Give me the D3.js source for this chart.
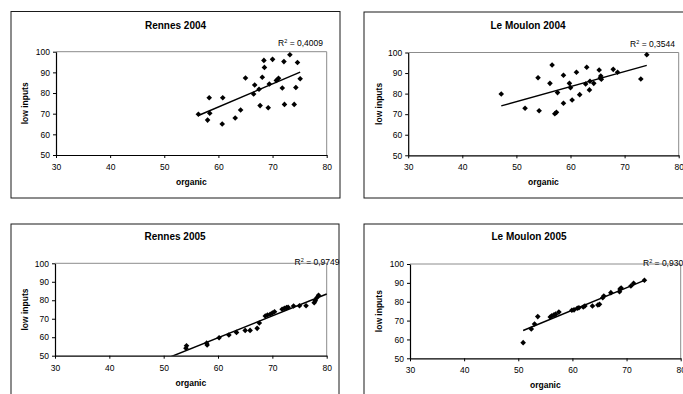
<!DOCTYPE html>
<html>
<head>
<meta charset="utf-8">
<script src="https://cdn.jsdelivr.net/npm/d3@7"></script>
<style>
  html, body { margin: 0; padding: 0; background: #fff; }
  svg { display: block; }
  text { font-family: "Liberation Sans", Arial, sans-serif; fill: #000; }
</style>
</head>
<body>
<svg id="chart" width="683" height="394"></svg>
<script>
// ---- data ----
const panelTitles = ["Rennes 2004", "Le Moulon 2004", "Rennes 2005", "Le Moulon 2005"];
const r2Labels = ["0,4009", "0,3544", "0,9749", "0,9306"];
const xTicks = [30, 40, 50, 60, 70, 80];
const yTicks = [50, 60, 70, 80, 90, 100];
const xTitle = "organic";
const yTitle = "low inputs";

const rennes2004X = [56.3, 58.0, 58.3, 58.4, 60.7, 60.8, 63.1, 64.1, 65.0, 66.5, 66.7, 67.5, 67.7, 68.1, 68.4, 68.5, 69.2, 69.4, 70.0, 70.7, 71.1, 71.8, 72.1, 72.2, 73.2, 74.0, 74.3, 74.6, 75.1];
const rennes2004Y = [69.7, 66.9, 77.7, 70.2, 65.0, 77.7, 67.9, 71.8, 87.3, 79.5, 83.9, 81.8, 73.9, 87.6, 95.8, 92.4, 72.9, 84.4, 96.3, 86.1, 87.1, 82.4, 95.2, 74.5, 98.5, 74.5, 82.7, 94.8, 86.9];

const moulon2004X = [47.2, 51.6, 54.0, 54.2, 56.2, 56.6, 57.1, 57.4, 57.6, 58.7, 58.7, 59.8, 60.0, 60.3, 61.1, 61.7, 62.8, 63.0, 63.5, 63.6, 64.3, 65.3, 65.5, 65.6, 65.7, 67.9, 68.7, 73.0, 74.1];
const moulon2004Y = [79.8, 72.9, 87.7, 71.7, 85.0, 93.9, 70.2, 70.9, 80.5, 88.9, 75.3, 85.0, 82.9, 76.9, 90.4, 79.5, 84.7, 92.8, 81.8, 86.0, 85.0, 91.5, 87.6, 88.6, 87.0, 91.8, 90.4, 87.1, 98.9];

const rennes2005X = [54.1, 54.2, 57.9, 58.0, 60.2, 62.0, 63.4, 65.0, 65.9, 67.2, 67.6, 68.7, 69.1, 69.6, 70.0, 70.4, 71.8, 72.2, 72.6, 72.9, 73.9, 75.0, 76.2, 77.7, 77.9, 78.2, 78.5];
const rennes2005Y = [54.0, 55.4, 56.8, 55.8, 59.7, 61.2, 62.6, 63.7, 63.7, 64.8, 67.7, 71.5, 72.0, 72.4, 73.1, 73.8, 75.1, 75.6, 76.0, 76.2, 76.9, 77.0, 77.0, 78.7, 79.8, 81.4, 82.7];

const moulon2005X = [50.9, 52.4, 53.0, 53.6, 55.9, 56.2, 56.6, 56.9, 57.5, 59.9, 60.3, 60.9, 61.2, 62.0, 62.3, 63.7, 64.7, 65.0, 65.6, 65.8, 67.1, 68.7, 68.8, 69.0, 70.8, 71.3, 73.3];
const moulon2005Y = [58.3, 65.5, 68.2, 72.1, 71.9, 72.6, 73.0, 73.4, 74.5, 75.5, 75.7, 76.5, 76.8, 77.2, 77.7, 77.7, 78.3, 78.6, 82.1, 83.0, 84.8, 85.3, 86.7, 87.3, 88.3, 89.8, 91.4];

const seriesX = [rennes2004X, moulon2004X, rennes2005X, moulon2005X];
const seriesY = [rennes2004Y, moulon2004Y, rennes2005Y, moulon2005Y];
// trend line drawn over the data range, or over the full axis (forecast) for Rennes 2005
const trendSpan = ["data", "data", "axis", "data"];

// ---- layout (positions only) ----
const layouts = [
  { frame: [11, 11.5, 329, 186.5], plot: [56, 326.7, 51.7, 155], titleY: 25, r2: { x: 323, y: 43.3, anchor: "end" }, yTitleX: 25 },
  { frame: [364, 12, 328, 186], plot: [408.2, 678.7, 52.5, 155.3], titleY: 25, r2: { x: 675, y: 43.7, anchor: "end" }, yTitleX: 379 },
  { frame: [11, 224, 328, 200], plot: [55, 326.7, 263.3, 355.7], titleY: 236.7, r2: { x: 339.5, y: 261.7, anchor: "end" }, yTitleX: 25 },
  { frame: [364, 224, 330, 200], plot: [410, 680.7, 264, 358.3], titleY: 236.7, r2: { x: 643, y: 263, anchor: "start" }, yTitleX: 379 }
];

const svg = d3.select("#chart");
const FS = 8.5;

function regression(xs, ys) {
  const mx = d3.mean(xs), my = d3.mean(ys);
  let sxy = 0, sxx = 0;
  for (let i = 0; i < xs.length; i++) { sxy += (xs[i] - mx) * (ys[i] - my); sxx += (xs[i] - mx) ** 2; }
  const b = sxy / sxx;
  return { b, a: my - b * mx };
}

layouts.forEach((L, i) => {
  const g = svg.append("g");
  const [fx, fy, fw, fh] = L.frame;
  const [pl, pr, pt, pb] = L.plot;

  g.append("rect").attr("x", fx).attr("y", fy).attr("width", fw).attr("height", fh)
    .attr("fill", "#fff").attr("stroke", "#1a1a1a").attr("stroke-width", 1);

  const x = d3.scaleLinear().domain([30, 80]).range([pl, pr]);
  const y = d3.scaleLinear().domain([50, 100]).range([pb, pt]);

  // plot area border (grey top & right)
  g.append("path")
    .attr("d", `M${pl},${pt}H${pr}V${pb}`)
    .attr("fill", "none").attr("stroke", "#8c8c8c").attr("stroke-width", 1);

  // title
  g.append("text").attr("x", fx + fw / 2).attr("y", L.titleY).attr("dy", "0.35em")
    .attr("text-anchor", "middle").attr("font-size", 10).attr("font-weight", "bold")
    .text(panelTitles[i]);

  // axes
  const xAxis = d3.axisBottom(x).tickValues(xTicks).tickSize(3).tickPadding(6).tickSizeOuter(0);
  const yAxis = d3.axisLeft(y).tickValues(yTicks).tickSize(3).tickPadding(3).tickSizeOuter(0);
  const gx = g.append("g").attr("transform", `translate(0,${pb})`).call(xAxis);
  const gy = g.append("g").attr("transform", `translate(${pl},0)`).call(yAxis);
  [gx, gy].forEach(a => {
    a.selectAll("path.domain").attr("stroke", "#000").attr("stroke-width", 1.2);
    a.selectAll(".tick line").attr("stroke", "#000");
    a.selectAll(".tick text").attr("font-size", FS).attr("font-family", "Liberation Sans, Arial, sans-serif");
  });

  // axis titles
  g.append("text").attr("x", (pl + pr) / 2).attr("y", pb + 27).attr("dy", "0.35em")
    .attr("text-anchor", "middle").attr("font-size", FS).attr("font-weight", "bold").text(xTitle);
  g.append("text").attr("transform", `translate(${L.yTitleX},${(pt + pb) / 2}) rotate(-90)`)
    .attr("dy", "0.35em").attr("text-anchor", "middle").attr("font-size", FS).attr("font-weight", "bold").text(yTitle);

  // clip for plot area
  const clipId = "clip" + i;
  g.append("clipPath").attr("id", clipId).append("rect")
    .attr("x", pl).attr("y", pt - 1).attr("width", pr - pl + 1).attr("height", pb - pt + 1);

  // trend line
  const xs = seriesX[i], ys = seriesY[i];
  const reg = regression(xs, ys);
  const dom = trendSpan[i] === "axis" ? x.domain() : d3.extent(xs);
  const line = d3.line().x(d => x(d)).y(d => y(reg.a + reg.b * d));
  g.append("path").attr("clip-path", `url(#${clipId})`)
    .attr("d", line(dom)).attr("fill", "none").attr("stroke", "#000").attr("stroke-width", 1.5);

  // markers
  const r = 2.8;
  g.append("g").selectAll("path").data(xs.map((v, k) => [v, ys[k]])).join("path")
    .attr("d", d => {
      const cx = x(d[0]), cy = y(d[1]);
      return `M${cx},${cy - r}L${cx + r},${cy}L${cx},${cy + r}L${cx - r},${cy}Z`;
    })
    .attr("fill", "#000");

  // R² label
  const t = g.append("text").attr("x", L.r2.x).attr("y", L.r2.y).attr("dy", "0.35em")
    .attr("text-anchor", L.r2.anchor).attr("font-size", FS).attr("fill", "#222");
  t.append("tspan").text("R");
  t.append("tspan").attr("font-size", 5.5).attr("dy", "-0.55em").text("2");
  t.append("tspan").attr("dy", "0.35em").text(" = " + r2Labels[i]);
});
</script>
</body>
</html>
